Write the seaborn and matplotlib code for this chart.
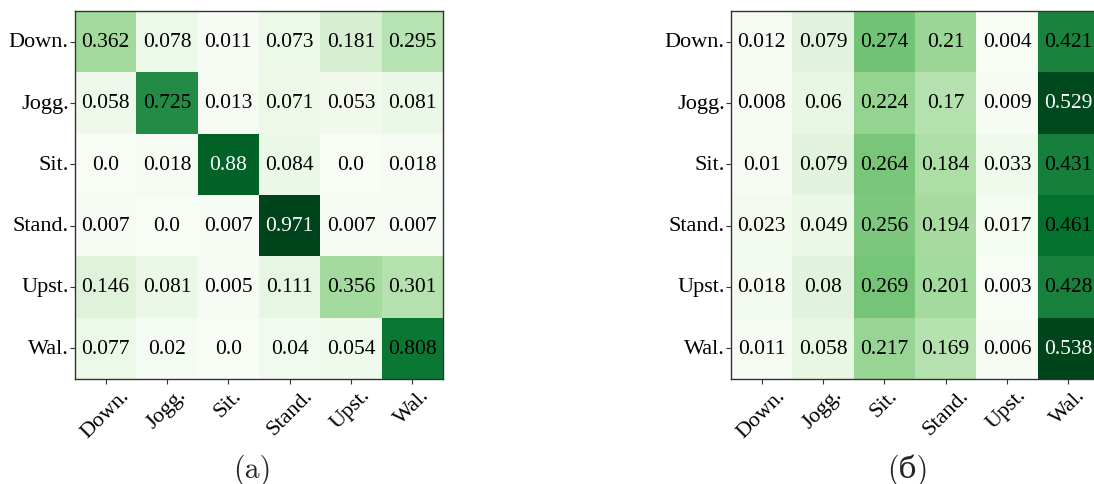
import numpy as np
import pandas as pd
import matplotlib
matplotlib.use("Agg")
import matplotlib.pyplot as plt
import seaborn as sns

labels = ["Down.", "Jogg.", "Sit.", "Stand.", "Upst.", "Wal."]

# confusion matrix (a)
cm_a = [
    [0.362, 0.078, 0.011, 0.073, 0.181, 0.295],
    [0.058, 0.725, 0.013, 0.071, 0.053, 0.081],
    [0.0,   0.018, 0.88,  0.084, 0.0,   0.018],
    [0.007, 0.0,   0.007, 0.971, 0.007, 0.007],
    [0.146, 0.081, 0.005, 0.111, 0.356, 0.301],
    [0.077, 0.02,  0.0,   0.04,  0.054, 0.808],
]

# confusion matrix (б)
cm_b = [
    [0.012, 0.079, 0.274, 0.21,  0.004, 0.421],
    [0.008, 0.06,  0.224, 0.17,  0.009, 0.529],
    [0.01,  0.079, 0.264, 0.184, 0.033, 0.431],
    [0.023, 0.049, 0.256, 0.194, 0.017, 0.461],
    [0.018, 0.08,  0.269, 0.201, 0.003, 0.428],
    [0.011, 0.058, 0.217, 0.169, 0.006, 0.538],
]

captions = ["(a)", "(б)"]

sns.set_style("white")
plt.rcParams["font.family"] = ["Liberation Serif", "DejaVu Serif"]

W, H = 1094, 485
fig = plt.figure(figsize=(W / 100, H / 100), dpi=100)

axes_px = [(75, 12), (731, 12)]
size_px = 368
caption_x = [252, 908]

for (cm, cap, (x0, y0), cx) in zip([cm_a, cm_b], captions, axes_px, caption_x):
    ax = fig.add_axes([x0 / W, (H - y0 - size_px) / H, size_px / W, size_px / H])
    df = pd.DataFrame(cm, index=labels, columns=labels)
    text = np.array([[str(v) for v in row] for row in cm])
    sns.heatmap(df, ax=ax, cmap="Greens", annot=text, fmt="", cbar=False,
                annot_kws={"fontsize": 15.5})
    # white text only on the darkest cells
    arr = np.asarray(cm, dtype=float)
    lo, hi = arr.min(), arr.max()
    for t, v in zip(ax.texts, arr.ravel()):
        t.set_color("white" if (v - lo) / (hi - lo) > 0.87 else "black")
    for s in ax.spines.values():
        s.set_visible(True)
        s.set_color("#333333")
        s.set_linewidth(1.0)
    ax.tick_params(axis="both", which="both", length=3.5, width=0.8,
                   color="#333333", labelcolor="black", labelsize=16, pad=1)
    ax.tick_params(left=True, bottom=True)
    ax.set_xticklabels(labels, rotation=45, ha="center")
    ax.set_yticklabels(labels, rotation=0)
    ax.set_xlabel("")
    ax.set_ylabel("")
    fig.text(cx / W, 1 - 470 / H, cap, ha="center", va="center",
             fontsize=21.5, family=["cmr10", "DejaVu Serif"])

fig.savefig("out.png", dpi=100)
